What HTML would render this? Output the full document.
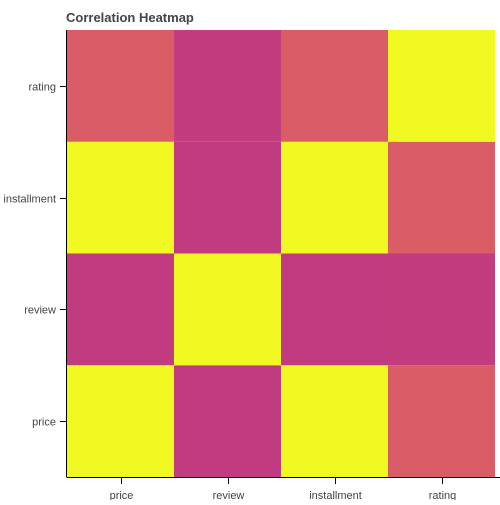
<!DOCTYPE html>
<html><head><meta charset="utf-8"><style>
body{margin:0;background:#fff;font-family:"Liberation Sans",Arial,sans-serif}
svg text{font-family:"Liberation Sans",Arial,sans-serif}
</style></head><body>
<svg id="chart" width="500" height="500" xmlns="http://www.w3.org/2000/svg">
<text x="66" y="22" font-size="13" font-weight="bold" fill="#444">Correlation Heatmap</text>
<g id="cells"></g><g id="axes"></g>
</svg>
<script>
const categories = ["price","review","installment","rating"];
const rowCategories = ["price","review","installment","rating"];
// values[row][col]
const values = [
 [1.00, 0.02, 1.00, 0.40],
 [0.02, 1.00, 0.02, 0.05],
 [1.00, 0.02, 1.00, 0.40],
 [0.40, 0.05, 0.40, 1.00]
];
const L=67,R=495,T=30,B=477;
const cw=(R-L)/categories.length, ch=(B-T)/rowCategories.length;
function xPos(i){return L+i*cw;}
function yPos(j){return B-(j+1)*ch;}
function lerp(a,b,t){return a+(b-a)*t;}
const stops=[[0,[191,57,129]],[0.4,[218,92,102]],[1,[240,249,33]]];
function color(v){
  for(let k=1;k<stops.length;k++){
    if(v<=stops[k][0]){const t=(v-stops[k-1][0])/(stops[k][0]-stops[k-1][0]);
      const a=stops[k-1][1],b=stops[k][1];
      return `rgb(${Math.round(lerp(a[0],b[0],t))},${Math.round(lerp(a[1],b[1],t))},${Math.round(lerp(a[2],b[2],t))})`;}
  }
  return "rgb(240,249,33)";
}
const NS="http://www.w3.org/2000/svg";
const cells=document.getElementById("cells"), axes=document.getElementById("axes");
rowCategories.forEach((r,j)=>{categories.forEach((c,i)=>{
  const e=document.createElementNS(NS,"rect");
  e.setAttribute("x",xPos(i));e.setAttribute("y",yPos(j));
  e.setAttribute("width",cw);e.setAttribute("height",ch);
  e.setAttribute("fill",color(values[j][i]));
  
  
  cells.appendChild(e);
});});
function line(x1,y1,x2,y2,name){const e=document.createElementNS(NS,"line");
  e.setAttribute("x1",x1);e.setAttribute("y1",y1);e.setAttribute("x2",x2);e.setAttribute("y2",y2);
  e.setAttribute("stroke","#000");e.setAttribute("stroke-width","1");
  
  
  axes.appendChild(e);}
function text(x,y,s,anchor,name){const e=document.createElementNS(NS,"text");
  e.setAttribute("x",x);e.setAttribute("y",y);e.setAttribute("font-size","11");e.setAttribute("fill","#444");
  e.setAttribute("text-anchor",anchor);e.textContent=s;
  
  
  axes.appendChild(e);}
line(L-0.5,T,L-0.5,B+0.5,"y-axis-line");
line(L,B+0.5,R+5,B+0.5,"x-axis-line");
categories.forEach((c,i)=>{const x=Math.round(xPos(i)+cw/2)+0.5;
  line(x,B,x,B+7,"x-tick");text(x,B+22,c,"middle","x-tick-label");});
rowCategories.forEach((r,j)=>{const y=Math.round(yPos(j)+ch/2)+0.5;
  line(L-7,y,L,y,"y-tick");text(L-11,y+4,r,"end","y-tick-label");});
</script>
</body></html>
